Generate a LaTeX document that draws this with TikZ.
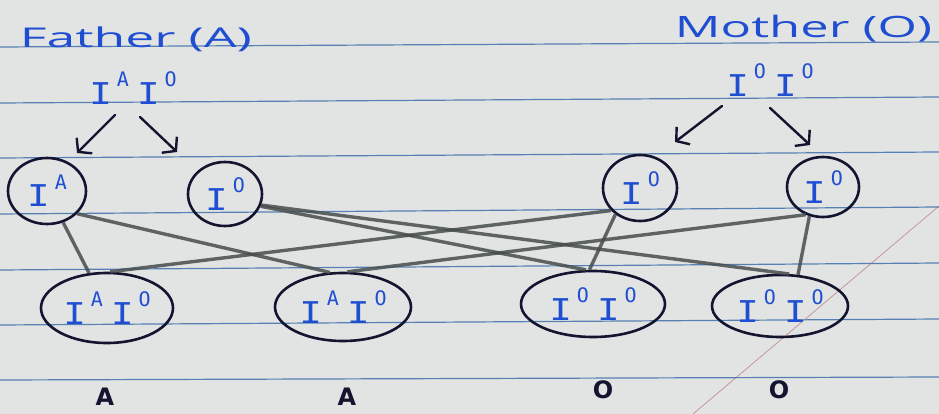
\documentclass[tikz,border=0pt]{standalone}
\usepackage{fontspec}
\usetikzlibrary{shapes.geometric,arrows.meta,calc}
\newfontfamily\handfont{Open Sans}
\newfontfamily\genofont{DejaVu Sans Mono}
\newfontfamily\phenofont{DejaVu Sans}
\definecolor{paper}{RGB}{225,228,226}
\definecolor{rulecol}{RGB}{40,95,165}
\definecolor{ink}{RGB}{32,78,210}
\definecolor{navy}{RGB}{18,20,48}
\definecolor{pencil}{RGB}{70,76,76}
\definecolor{margin}{RGB}{170,90,100}
\newcommand\gI{\scalebox{1.25}[1]{I}}
\newcommand\gsup[1]{\raisebox{0.58em}{\fontsize{20pt}{20pt}\selectfont #1}}
\tikzset{
  gam/.style={ellipse, draw=navy, line width=2.6pt, inner sep=0pt, text=ink,
    font=\genofont\fontsize{30pt}{30pt}\selectfont},
  geno/.style={inner sep=0pt, text=ink, font=\genofont\fontsize{30pt}{30pt}\selectfont},
  pl/.style={draw=pencil, line width=3.4pt, opacity=0.85},
  arr/.style={draw=navy, line width=2.4pt, line cap=round, -{Straight Barb[length=9pt,width=22pt]}},
  rl/.style={draw=rulecol, line width=1.2pt, opacity=0.75},
  pheno/.style={inner sep=0pt, text=navy, font=\phenofont\bfseries\fontsize{24pt}{24pt}\selectfont},
  title/.style={inner sep=0pt, text=ink}
}
\begin{document}
\begin{tikzpicture}[x=1pt,y=-1pt]
\fill[paper] (0,0) rectangle (939,414);
\useasboundingbox (0,0) rectangle (939,414);
% ruled paper
\foreach \a/\b in {47/42,103/97,158/152,214/207,270/263,325/319,380/377}
  \draw[rl] (0,\a) -- (939,\b);
\draw[margin, line width=0.7pt, opacity=0.6] (939,206) -- (693,414);

% titles
\node[title] (ft) at (136,39.5) {\resizebox*{232pt}{25pt}{\handfont Father (A)}};
\node[title] (mt) at (803.5,28.5) {\resizebox*{257pt}{27pt}{\handfont Mother (O)}};

% parental genotypes
\node[geno] (fg) at (133,88) {\gI\kern5pt\gsup{A}\kern8pt\gI\kern5pt\gsup{O}};
\node[geno] (mg) at (770,80) {\gI\kern5pt\gsup{O}\kern8pt\gI\kern5pt\gsup{O}};

% gametes
\node[gam, minimum width=78pt, minimum height=66pt] (f1) at (47,191) {\gI\kern5pt\gsup{A}};
\node[gam, minimum width=74pt, minimum height=64pt] (fo) at (225,194) {\gI\kern5pt\gsup{O}};
\node[gam, minimum width=74pt, minimum height=66pt] (m1) at (640,188) {\gI\kern5pt\gsup{O}};
\node[gam, minimum width=72pt, minimum height=60pt] (m2) at (823,187) {\gI\kern5pt\gsup{O}};

% offspring
\node[gam, minimum width=132pt, minimum height=70pt] (c1) at (107,308) {\gI\kern5pt\gsup{A}\kern8pt\gI\kern5pt\gsup{O}};
\node[gam, minimum width=136pt, minimum height=68pt] (c2) at (343,307) {\gI\kern5pt\gsup{A}\kern8pt\gI\kern5pt\gsup{O}};
\node[gam, minimum width=144pt, minimum height=66pt] (c3) at (593,304) {\gI\kern5pt\gsup{O}\kern8pt\gI\kern5pt\gsup{O}};
\node[gam, minimum width=136pt, minimum height=62pt] (c4) at (780,306) {\gI\kern5pt\gsup{O}\kern8pt\gI\kern5pt\gsup{O}};

% phenotypes
\node[pheno] (p1) at (105,397) {A};
\node[pheno] (p2) at (347,397) {A};
\node[pheno] (p3) at (603,390) {O};
\node[pheno] (p4) at (779,390) {O};

% arrows
\draw[arr] ($(fg)+(-18,27)$) -- ($(fg)+(-56,65)$);
\draw[arr] ($(fg)+(7,29)$) -- ($(fg)+(44,64)$);
\draw[arr] ($(mg)+(-48,26)$) -- ($(mg)+(-95,62)$);
\draw[arr] ($(mg)+(0,28)$) -- ($(mg)+(40,65)$);

% crosses
\draw[pl] (f1) -- (c1);
\draw[pl] (f1.-37) -- (c2.111);
\draw[pl] (fo.-19) -- (c3.102);
\draw[pl] (fo.-17) -- (c4.74);
\draw[pl] (m1.218) -- (c1.85);
\draw[pl] (m1.227) -- (c3.96);
\draw[pl] (m2.238) -- (c2.83);
\draw[pl] (m2.245) -- (c4.60);
\end{tikzpicture}
\end{document}
